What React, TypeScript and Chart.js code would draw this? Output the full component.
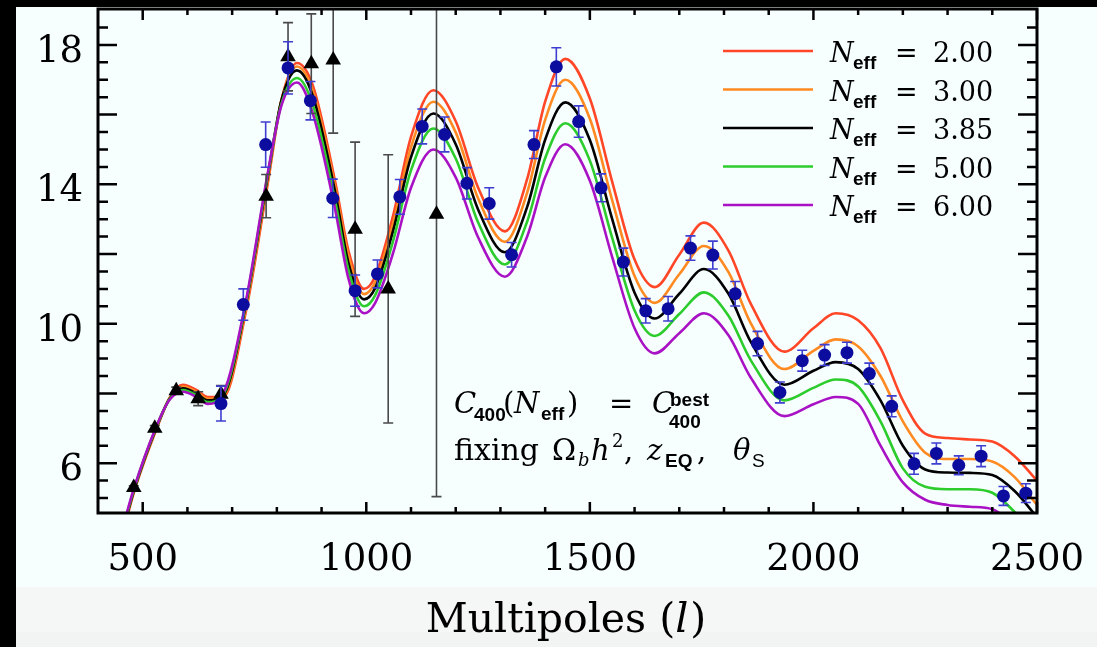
import React, { useEffect, useRef } from 'react';
import { Chart, registerables } from 'chart.js';
Chart.register(...registerables);

// ---------- data ----------
const L_GRID = [450, 480, 530, 560, 590, 620, 645, 680, 730, 780, 810, 845, 880, 930, 960, 995, 1020, 1060, 1100, 1150, 1200, 1250, 1310, 1360, 1400, 1445, 1500, 1550, 1600, 1645, 1700, 1755, 1810, 1860, 1935, 2000, 2050, 2100, 2150, 2200, 2250, 2300, 2350, 2400, 2450, 2500];

const NEFF_200 = [3.70, 5.15, 6.95, 7.87, 8.25, 8.10, 7.90, 7.90, 10.30, 14.05, 16.40, 17.48, 16.85, 14.10, 12.10, 11.00, 11.36, 13.10, 15.36, 16.70, 15.81, 13.91, 12.65, 14.16, 16.37, 17.60, 16.46, 14.07, 11.84, 11.05, 11.98, 12.90, 12.10, 10.57, 9.20, 9.87, 10.30, 10.10, 9.30, 7.80, 6.85, 6.72, 6.68, 6.62, 6.20, 5.50];
const NEFF_300 = [3.75, 5.18, 6.97, 7.86, 8.20, 8.05, 7.85, 7.92, 10.40, 14.15, 16.40, 17.38, 16.70, 13.95, 11.95, 10.85, 11.20, 12.88, 15.07, 16.37, 15.49, 13.60, 12.35, 13.77, 15.85, 17.00, 15.88, 13.54, 11.37, 10.60, 11.42, 12.23, 11.48, 10.01, 8.70, 9.22, 9.55, 9.35, 8.50, 7.20, 6.30, 6.12, 6.12, 6.05, 5.60, 4.80];
const NEFF_385 = [3.80, 5.20, 7.00, 7.85, 8.15, 8.00, 7.80, 7.95, 10.50, 14.25, 16.40, 17.27, 16.55, 13.80, 11.75, 10.70, 11.03, 12.67, 14.78, 16.03, 15.15, 13.28, 12.05, 13.36, 15.28, 16.35, 15.27, 13.00, 10.89, 10.15, 10.86, 11.57, 10.86, 9.48, 8.25, 8.65, 8.90, 8.70, 7.80, 6.50, 5.82, 5.73, 5.72, 5.66, 5.20, 4.45];
const NEFF_500 = [3.85, 5.23, 7.02, 7.83, 8.10, 7.95, 7.75, 7.97, 10.55, 14.30, 16.30, 17.05, 16.30, 13.55, 11.55, 10.50, 10.82, 12.38, 14.40, 15.60, 14.74, 12.91, 11.70, 12.94, 14.75, 15.75, 14.68, 12.46, 10.38, 9.65, 10.28, 10.90, 10.23, 8.95, 7.80, 8.16, 8.40, 8.20, 7.20, 5.85, 5.32, 5.25, 5.25, 5.15, 4.60, 3.90];
const NEFF_600 = [3.90, 5.26, 7.04, 7.82, 8.05, 7.90, 7.70, 8.00, 10.60, 14.35, 16.25, 16.92, 16.05, 13.30, 11.30, 10.30, 10.60, 12.03, 13.90, 15.00, 14.20, 12.48, 11.35, 12.51, 14.20, 15.15, 14.10, 11.91, 9.87, 9.15, 9.73, 10.30, 9.67, 8.45, 7.35, 7.69, 7.90, 7.70, 6.50, 5.45, 4.95, 4.80, 4.75, 4.68, 4.20, 3.60];

const CURVES = [NEFF_200, NEFF_300, NEFF_385, NEFF_500, NEFF_600];
const NEFF_LABELS = ['2.00', '3.00', '3.85', '5.00', '6.00'];
const CURVE_COLORS = ['#ff4626', '#ff8a22', '#000000', '#2ccc2c', '#a812c4'];

const BLUE_L = [675, 725, 775, 825, 875, 925, 975, 1025, 1075, 1125, 1175, 1225, 1275, 1325, 1375, 1425, 1475, 1525, 1575, 1625, 1675, 1725, 1775, 1825, 1875, 1925, 1975, 2025, 2075, 2125, 2175, 2225, 2275, 2325, 2375, 2425, 2475];
const BLUE_Y = [7.71, 10.55, 15.14, 17.34, 16.40, 13.60, 10.95, 11.43, 13.64, 15.66, 15.43, 14.03, 13.45, 11.98, 15.14, 17.37, 15.80, 13.90, 11.77, 10.37, 10.43, 12.17, 11.97, 10.86, 9.43, 8.03, 8.94, 9.10, 9.17, 8.57, 7.63, 5.98, 6.28, 5.94, 6.20, 5.06, 5.14];
const BLUE_ERR = [0.50, 0.45, 0.65, 0.75, 0.55, 0.55, 0.45, 0.40, 0.50, 0.50, 0.50, 0.45, 0.45, 0.35, 0.40, 0.55, 0.45, 0.40, 0.40, 0.35, 0.35, 0.35, 0.40, 0.35, 0.35, 0.30, 0.30, 0.30, 0.30, 0.30, 0.30, 0.30, 0.30, 0.27, 0.30, 0.27, 0.27];

const TRI_L = [480, 527, 575, 624, 675, 776, 825, 877, 926, 975, 1049, 1157];
const TRI_Y = [5.30, 7.00, 8.08, 7.85, 7.98, 13.66, 17.66, 17.46, 17.57, 12.71, 11.00, 13.14];
const TRI_ERR = [0.05, 0.08, 0.10, 0.20, 0.25, 0.62, 0.98, 1.43, 2.10, 2.50, 3.85, 8.10];

const X_MIN = 400;
const X_MAX = 2500;
const Y_MIN = 4.57;
const Y_MAX = 19.03;
const X_TICK_LABELS = [500, 1000, 1500, 2000, 2500];
const X_MINOR_TICKS = [600, 700, 800, 900, 1100, 1200, 1300, 1400, 1600, 1700, 1800, 1900, 2100, 2200, 2300, 2400];
const Y_TICK_LABELS = [6, 10, 14, 18];
const Y_MAJOR_TICKS = [6, 8, 10, 12, 14, 16, 18];
const Y_MINOR_TICKS = [5, 5.5, 6.5, 7, 7.5, 8.5, 9, 9.5, 10.5, 11, 11.5, 12.5, 13, 13.5, 14.5, 15, 15.5, 16.5, 17, 17.5, 18.5];

// ---------- drawing helpers ----------
const SERIF = '"DejaVu Serif", serif';
const SANS = '"Liberation Sans", Arial, sans-serif';

type Seg = { t: string; font: string; dy?: number; x?: number; gap?: number };
function drawSegs(ctx: CanvasRenderingContext2D, x: number, y: number, segs: Seg[]) {
  let cx = x;
  for (const s of segs) {
    ctx.font = s.font;
    if (s.x !== undefined) cx = s.x;
    ctx.fillText(s.t, cx, y + (s.dy || 0));
    cx += ctx.measureText(s.t).width + (s.gap || 0);
  }
}

const plotPlugin = {
  id: 'plotDecor',
  beforeDraw(chart: any) {
    const ctx: CanvasRenderingContext2D = chart.ctx;
    const W = chart.width, H = chart.height;
    ctx.save();
    ctx.fillStyle = '#f7fefe';
    ctx.fillRect(0, 0, W, H);
    ctx.fillStyle = '#f5f6f6';
    ctx.fillRect(0, 587, W, H - 587);
    ctx.fillStyle = '#f2f3f3';
    ctx.fillRect(0, 632, W, H - 632);
    ctx.fillStyle = '#000';
    ctx.fillRect(0, 0, 16, H);
    ctx.fillRect(0, 0, W, 7);
    ctx.restore();
  },
  beforeDatasetDraw(chart: any, args: any) {
    const ds = chart.data.datasets[args.index];
    if (!ds.errs) return;
    const ctx: CanvasRenderingContext2D = chart.ctx;
    const a = chart.chartArea;
    const xs = chart.scales.x, ys = chart.scales.y;
    ctx.save();
    ctx.beginPath();
    ctx.rect(a.left, a.top, a.right - a.left, a.bottom - a.top);
    ctx.clip();
    ctx.strokeStyle = ds.errColor;
    ctx.lineWidth = 1.6;
    ds.data.forEach((p: any, i: number) => {
      const px = xs.getPixelForValue(p.x);
      const top = ys.getPixelForValue(p.y + ds.errs[i]);
      const bot = ys.getPixelForValue(p.y - ds.errs[i]);
      ctx.beginPath();
      ctx.moveTo(px, top); ctx.lineTo(px, bot);
      ctx.moveTo(px - 5, top); ctx.lineTo(px + 5, top);
      ctx.moveTo(px - 5, bot); ctx.lineTo(px + 5, bot);
      ctx.stroke();
    });
    ctx.restore();
  },
  afterDraw(chart: any) {
    const ctx: CanvasRenderingContext2D = chart.ctx;
    const a = chart.chartArea;
    const xs = chart.scales.x, ys = chart.scales.y;
    ctx.save();
    // frame
    ctx.strokeStyle = '#000';
    ctx.lineWidth = 3;
    ctx.strokeRect(a.left, a.top, a.right - a.left, a.bottom - a.top);
    // ticks
    ctx.lineWidth = 2.5;
    ctx.beginPath();
    const xt = (v: number, len: number) => {
      const px = xs.getPixelForValue(v);
      ctx.moveTo(px, a.bottom); ctx.lineTo(px, a.bottom - len);
      ctx.moveTo(px, a.top); ctx.lineTo(px, a.top + len);
    };
    X_TICK_LABELS.forEach(v => xt(v, 11));
    X_MINOR_TICKS.forEach(v => xt(v, 6));
    const yt = (v: number, len: number) => {
      const py = ys.getPixelForValue(v);
      ctx.moveTo(a.left, py); ctx.lineTo(a.left + len, py);
      ctx.moveTo(a.right, py); ctx.lineTo(a.right - len, py);
    };
    Y_MAJOR_TICKS.forEach(v => yt(v, 19));
    Y_MINOR_TICKS.forEach(v => yt(v, 10));
    ctx.stroke();

    // tick labels
    ctx.fillStyle = '#000';
    ctx.font = `37px ${SERIF}`;
    ctx.textBaseline = 'alphabetic';
    ctx.textAlign = 'right';
    Y_TICK_LABELS.forEach(v => {
      ctx.fillText(String(v), 83, ys.getPixelForValue(v) + 17);
    });
    ctx.textAlign = 'center';
    X_TICK_LABELS.forEach(v => {
      ctx.fillText(String(v), xs.getPixelForValue(v), 570);
    });

    // x title
    ctx.textAlign = 'left';
    const tSegs: Seg[] = [
      { t: 'Multipoles (', font: `41px ${SERIF}` },
      { t: 'l', font: `italic 41px ${SERIF}`, gap: 2 },
      { t: ')', font: `41px ${SERIF}` },
    ];
    let tw = 0;
    tSegs.forEach(s => { ctx.font = s.font; tw += ctx.measureText(s.t).width + (s.gap || 0); });
    drawSegs(ctx, 566 - tw / 2, 632, tSegs);

    // legend
    for (let i = 0; i < CURVES.length; i++) {
      const by = 62 + i * 38.5;
      ctx.strokeStyle = CURVE_COLORS[i];
      ctx.lineWidth = 2.6;
      ctx.beginPath();
      ctx.moveTo(723, by - 11); ctx.lineTo(813, by - 11);
      ctx.stroke();
      ctx.fillStyle = '#000';
      drawSegs(ctx, 830, by, [
        { t: 'N', font: `italic 27px ${SERIF}` },
        { t: 'eff', font: `bold 19px ${SANS}`, dy: 7, x: 853 },
        { t: '=', font: `27px ${SERIF}`, x: 895 },
        { t: NEFF_LABELS[i], font: `27px ${SERIF}`, x: 933 },
      ]);
    }

    // annotation
    ctx.fillStyle = '#000';
    const F = `29px ${SERIF}`;
    const FI = `italic 29px ${SERIF}`;
    const FS = `bold 19px ${SANS}`;
    drawSegs(ctx, 455, 413, [
      { t: 'C', font: FI, x: 454 },
      { t: '400', font: FS, dy: 8, x: 474 },
      { t: '(', font: F, x: 503 },
      { t: 'N', font: FI, x: 514 },
      { t: 'eff', font: FS, dy: 7, x: 541 },
      { t: ')', font: F, x: 567 },
      { t: '=', font: F, x: 609 },
      { t: 'C', font: FI, x: 652 },
      { t: 'best', font: FS, dy: -7, x: 670 },
      { t: '400', font: FS, dy: 15, x: 669 },
    ]);
    drawSegs(ctx, 455, 460, [
      { t: 'fixing', font: `30px ${SERIF}`, x: 454 },
      { t: 'Ω', font: F, x: 552 },
      { t: 'b', font: `italic 18px ${SERIF}`, dy: 6, x: 578 },
      { t: 'h', font: FI, x: 591 },
      { t: '2', font: `18px ${SERIF}`, dy: -13, x: 612 },
      { t: ',', font: F, x: 624 },
      { t: 'z', font: FI, x: 647 },
      { t: 'EQ', font: FS, dy: 7, x: 665 },
      { t: ',', font: F, x: 697 },
      { t: 'θ', font: FI, x: 733 },
      { t: 'S', font: `19px ${SANS}`, dy: 7, x: 752 },
    ]);
    ctx.restore();
  },
};

export default function App() {
  const ref = useRef<HTMLCanvasElement>(null);
  useEffect(() => {
    document.body.style.margin = '0';
    const order = [6, 5, 4, 3, 2];
    const curveSets = CURVES.map((c, i) => ({
      type: 'line' as const,
      label: 'Neff = ' + NEFF_LABELS[i],
      data: L_GRID.map((l, j) => ({ x: l, y: c[j] })),
      borderColor: CURVE_COLORS[i],
      backgroundColor: CURVE_COLORS[i],
      borderWidth: 2.6,
      pointRadius: 0,
      fill: false,
      cubicInterpolationMode: 'monotone' as const,
      order: order[i],
    }));
    const tri: any = {
      type: 'scatter',
      label: 'triangles',
      data: TRI_L.map((l, j) => ({ x: l, y: TRI_Y[j] })),
      pointStyle: 'triangle',
      pointRadius: 9,
      backgroundColor: '#000',
      borderColor: '#000',
      borderWidth: 0,
      errs: TRI_ERR,
      errColor: '#4a4a4a',
      order: 1,
    };
    const blue: any = {
      type: 'scatter',
      label: 'circles',
      data: BLUE_L.map((l, j) => ({ x: l, y: BLUE_Y[j] })),
      pointStyle: 'circle',
      pointRadius: 6.5,
      backgroundColor: '#0c0c9e',
      borderColor: '#0c0c9e',
      borderWidth: 0,
      errs: BLUE_ERR,
      errColor: '#3e3ed0',
      order: 0,
    };
    const chart = new Chart(ref.current as HTMLCanvasElement, {
      type: 'scatter',
      data: { datasets: [...curveSets, tri, blue] as any },
      options: {
        responsive: false,
        animation: false,
        devicePixelRatio: 1,
        layout: { padding: { left: 98, right: 60, top: 7, bottom: 134 } },
        plugins: { legend: { display: false }, tooltip: { enabled: false } },
        scales: {
          x: { type: 'linear', min: X_MIN, max: X_MAX, display: false },
          y: { type: 'linear', min: Y_MIN, max: Y_MAX, display: false },
        },
      },
      plugins: [plotPlugin],
    });
    return () => chart.destroy();
  }, []);
  return (
    <div style={{ width: 1097, height: 647 }}>
      <canvas ref={ref} width={1097} height={647} style={{ display: 'block' }} />
    </div>
  );
}
